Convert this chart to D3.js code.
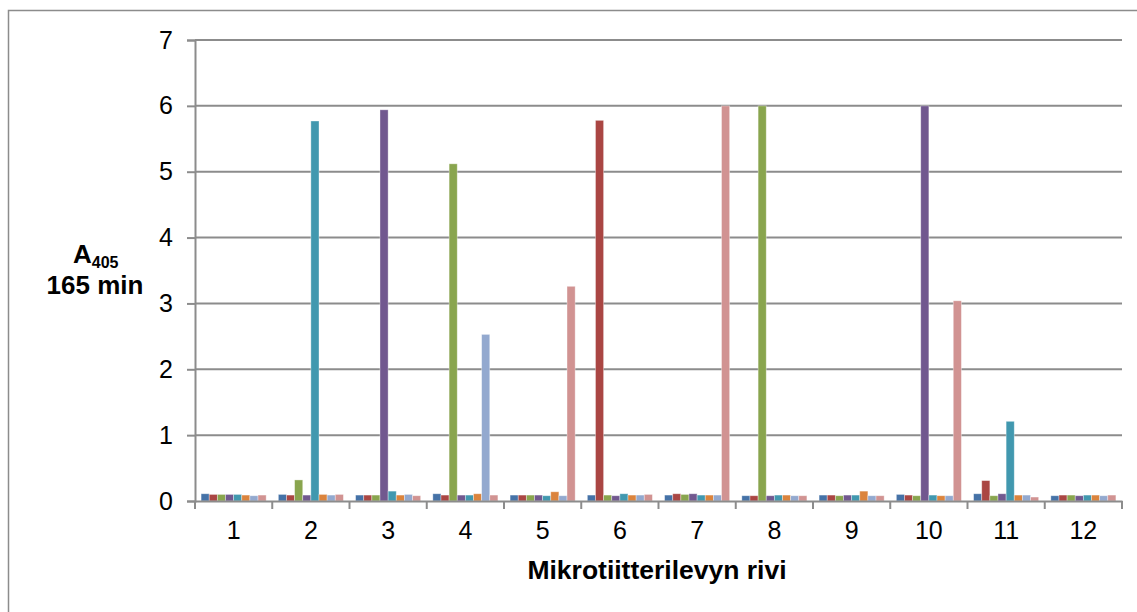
<!DOCTYPE html>
<html>
<head>
<meta charset="utf-8">
<script src="https://cdn.jsdelivr.net/npm/d3@7"></script>
<style>
  body { margin: 0; background: #fff; }
  text { font-family: "Liberation Sans", Arial, sans-serif; }
</style>
</head>
<body>
<script>
// rows of the microtiter plate (categories)
var rows = ["1", "2", "3", "4", "5", "6", "7", "8", "9", "10", "11", "12"];

// eight series, one value per row
var s1 = [0.11, 0.10, 0.09, 0.11, 0.09, 0.09, 0.09, 0.08, 0.09, 0.10, 0.11, 0.08];
var s2 = [0.10, 0.09, 0.09, 0.09, 0.09, 5.78, 0.11, 0.08, 0.09, 0.09, 0.31, 0.09];
var s3 = [0.10, 0.32, 0.09, 5.12, 0.09, 0.09, 0.10, 6.00, 0.08, 0.08, 0.08, 0.09];
var s4 = [0.10, 0.09, 5.94, 0.09, 0.09, 0.08, 0.11, 0.08, 0.09, 6.00, 0.11, 0.08];
var s5 = [0.10, 5.77, 0.15, 0.09, 0.08, 0.11, 0.09, 0.09, 0.09, 0.09, 1.21, 0.09];
var s6 = [0.09, 0.10, 0.09, 0.11, 0.14, 0.09, 0.09, 0.09, 0.15, 0.08, 0.09, 0.09];
var s7 = [0.08, 0.09, 0.10, 2.53, 0.08, 0.09, 0.09, 0.08, 0.08, 0.08, 0.09, 0.08];
var s8 = [0.09, 0.10, 0.08, 0.09, 3.26, 0.10, 6.00, 0.08, 0.08, 3.04, 0.06, 0.09];
var series = [s1, s2, s3, s4, s5, s6, s7, s8];
var colors = ["#4572A7", "#AA4643", "#89A54E", "#71588F", "#4198AF", "#DB843D", "#93A9CF", "#D19392"];

var yTicks = [0, 1, 2, 3, 4, 5, 6, 7];

var width = 1137, height = 612;
var plotLeft = 195, plotRight = 1122, plotTop = 40, plotBottom = 501;

var svg = d3.select("body").append("svg")
  .attr("width", width)
  .attr("height", height);

// outer chart border
svg.append("rect")
  .attr("x", 8.5).attr("y", 10.5)
  .attr("width", 1140).attr("height", 620)
  .attr("fill", "none")
  .attr("stroke", "#8c8c8c")
  .attr("stroke-width", 1.5);

var x = d3.scaleBand().domain(rows).range([plotLeft, plotRight]).paddingInner(0).paddingOuter(0);
var y = d3.scaleLinear().domain([0, 7]).range([plotBottom, plotTop]);

// gridlines
svg.append("g")
  .selectAll("line")
  .data(yTicks.slice(1))
  .enter().append("line")
    .attr("x1", plotLeft).attr("x2", plotRight)
    .attr("y1", d => y(d)).attr("y2", d => y(d))
    .attr("stroke", "#8c8c8c")
    .attr("stroke-width", 2);

// bars: Excel style, 150% gap between groups
var inner = d3.scaleBand().domain(d3.range(series.length))
  .range([0, x.bandwidth()])
  .paddingOuter(0.75).paddingInner(0);

var groups = svg.append("g")
  .selectAll("g")
  .data(series)
  .enter().append("g")
    .attr("fill", (d, i) => colors[i]);

groups.each(function(vals, si) {
  d3.select(this).selectAll("rect")
    .data(vals)
    .enter().append("rect")
      .attr("x", (d, i) => x(rows[i]) + inner(si))
      .attr("width", inner.bandwidth())
      .attr("y", d => y(d))
      .attr("height", d => y(0) - y(d))
      .attr("stroke", "#fff")
      .attr("stroke-opacity", 0.45)
      .attr("stroke-width", 0.8);
});

// y axis
var yAxis = d3.axisLeft(y).tickValues(yTicks).tickFormat(d3.format("d")).tickSize(8).tickPadding(14);
var ya = svg.append("g")
  .attr("transform", "translate(" + plotLeft + ",0)")
  .call(yAxis);
ya.select(".domain").attr("stroke", "#8c8c8c").attr("stroke-width", 2);
ya.selectAll(".tick line").attr("stroke", "#8c8c8c").attr("stroke-width", 2);
ya.selectAll("text")
  .attr("font-size", 25)
  .attr("fill", "#000")
  .style("font-family", "'Liberation Sans', Arial, sans-serif");

// x axis
var xAxis = d3.axisBottom(x).tickSize(0).tickPadding(20);
var xa = svg.append("g")
  .attr("transform", "translate(0," + plotBottom + ")")
  .call(xAxis);
xa.select(".domain").attr("stroke", "#8c8c8c").attr("stroke-width", 2);
xa.selectAll("text")
  .attr("font-size", 25)
  .attr("fill", "#000")
  .style("font-family", "'Liberation Sans', Arial, sans-serif");

// category boundary ticks
svg.append("g")
  .selectAll("line")
  .data(rows.concat(["end"]))
  .enter().append("line")
    .attr("x1", (d, i) => i < rows.length ? x(d) : plotRight)
    .attr("x2", (d, i) => i < rows.length ? x(d) : plotRight)
    .attr("y1", plotBottom).attr("y2", plotBottom + 8)
    .attr("stroke", "#8c8c8c")
    .attr("stroke-width", 2);

// axis titles
svg.append("text")
  .attr("x", 657)
  .attr("y", 579)
  .attr("text-anchor", "middle")
  .attr("font-size", 26.5)
  .attr("font-weight", "bold")
  .text("Mikrotiitterilevyn rivi");

var yt = svg.append("text")
  .attr("x", 73)
  .attr("y", 263)
  .attr("font-size", 26)
  .attr("font-weight", "bold");
yt.append("tspan").text("A");
yt.append("tspan").attr("font-size", 16).attr("dy", 5).text("405");

svg.append("text")
  .attr("x", 95)
  .attr("y", 294)
  .attr("text-anchor", "middle")
  .attr("font-size", 26)
  .attr("font-weight", "bold")
  .text("165 min");
</script>
</body>
</html>
